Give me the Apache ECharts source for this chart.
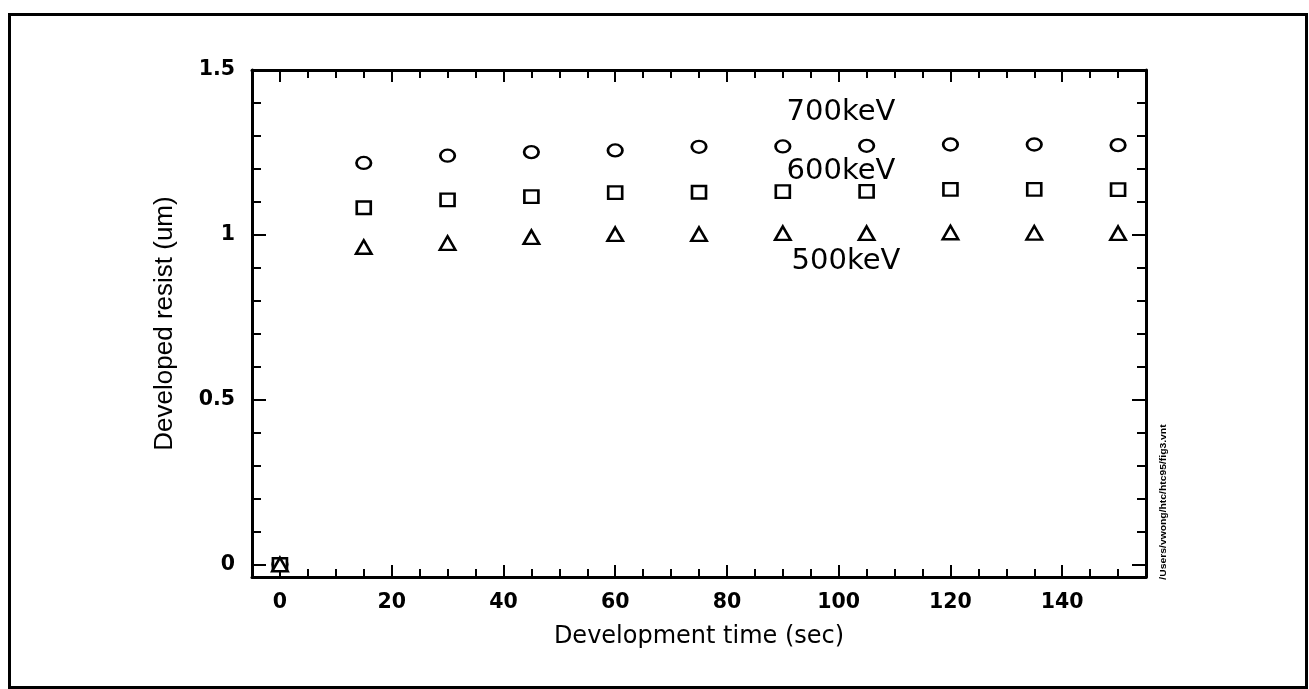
<!DOCTYPE html>
<html>
<head>
<meta charset="utf-8">
<script src="https://cdn.jsdelivr.net/npm/echarts@6/dist/echarts.min.js"></script>
<style>
html,body{margin:0;padding:0;background:#fff;}
#c{width:1309px;height:689px;}
</style>
</head>
<body>
<div id="c"></div>
<script>
// ---- data ----
var times = [0, 15, 30, 45, 60, 75, 90, 105, 120, 135, 150];
var kev700 = [0, 1.218, 1.240, 1.251, 1.256, 1.267, 1.268, 1.270, 1.274, 1.274, 1.272];
var kev600 = [0, 1.082, 1.106, 1.116, 1.128, 1.129, 1.131, 1.132, 1.138, 1.138, 1.137];
var kev500 = [0, 0.963, 0.975, 0.993, 1.002, 1.002, 1.005, 1.005, 1.007, 1.006, 1.005];

var xLabels = [0, 20, 40, 60, 80, 100, 120, 140];
var xMinorTicks = [0,5,10,15,20,25,30,35,40,45,50,55,60,65,70,75,80,85,90,95,100,105,110,115,120,125,130,135,140,145,150];
var yLabels = [0, 0.5, 1, 1.5];
var yMinorTicks = [0,0.1,0.2,0.3,0.4,0.5,0.6,0.7,0.8,0.9,1.0,1.1,1.2,1.3,1.4,1.5];

var seriesNames = ['700keV', '600keV', '500keV'];
var annX = [100.4, 100.4, 101.3];
var annY = [1.372, 1.193, 0.918];

var xTitle = 'Development time (sec)';
var yTitle = 'Developed resist (um)';
var fileTag = '/Users/vwong/htc/htc95/fig3.vnt';

// ---- chart ----
var chart = echarts.init(document.getElementById('c'), null, {renderer: 'canvas'});
var FONT = 'DejaVu Sans';
var XMIN = -5, XMAX = 155, YMIN = -0.038, YMAX = 1.5;

function xAx(pos, ticks, len, showLine, labels, name) {
  var a = {
    type: 'value', position: pos, min: XMIN, max: XMAX,
    splitLine: {show: false},
    axisLine: {show: showLine, onZero: false, lineStyle: {color: '#000', width: 3}},
    axisTick: {show: true, inside: true, length: len, customValues: ticks, lineStyle: {color: '#000', width: 2}},
    axisLabel: labels ? {show: true, customValues: labels, color: '#000', fontFamily: FONT, fontWeight: 'bold', fontSize: 20.5, margin: 15} : {show: false}
  };
  if (name) {
    a.name = name; a.nameLocation = 'middle'; a.nameGap = 48;
    a.nameTextStyle = {color: '#000', fontFamily: FONT, fontSize: 24};
  }
  return a;
}
function yAx(pos, ticks, len, showLine, labels, name) {
  var a = {
    type: 'value', position: pos, min: YMIN, max: YMAX,
    splitLine: {show: false},
    axisLine: {show: showLine, onZero: false, lineStyle: {color: '#000', width: 3}},
    axisTick: {show: true, inside: true, length: len, customValues: ticks, lineStyle: {color: '#000', width: 2}},
    axisLabel: labels ? {show: true, customValues: labels, color: '#000', fontFamily: FONT, fontWeight: 'bold', fontSize: 20.5, margin: 17} : {show: false}
  };
  if (name) {
    a.name = name; a.nameLocation = 'middle'; a.nameGap = 74;
    a.nameTextStyle = {color: '#000', fontFamily: 'Liberation Sans', fontSize: 26};
  }
  return a;
}

function pts(vals) { return times.map(function (t, i) { return [t, vals[i]]; }); }
function mk(name, vals, symbol, size) {
  return {
    name: name, type: 'scatter', xAxisIndex: 0, yAxisIndex: 0,
    symbol: symbol, symbolSize: size, data: pts(vals),
    itemStyle: {color: '#fff', borderColor: '#000', borderWidth: 2.5, opacity: 1},
    emphasis: {disabled: true}, silent: true, z: 3
  };
}

var annData = seriesNames.map(function (n, i) { return {value: [annX[i], annY[i]], name: n}; });

var option = {
  animation: false,
  backgroundColor: '#fff',
  grid: {left: 252, top: 70, width: 894, height: 507, containLabel: false},
  xAxis: [
    xAx('bottom', xMinorTicks, 8, true, xLabels, xTitle),
    xAx('bottom', xLabels, 12, false, null, null),
    xAx('top', xMinorTicks, 8, true, null, null),
    xAx('top', xLabels, 12, false, null, null)
  ],
  yAxis: [
    yAx('left', yMinorTicks, 9, true, yLabels, yTitle),
    yAx('left', yLabels, 14, false, null, null),
    yAx('right', yMinorTicks, 9, true, null, null),
    yAx('right', yLabels, 14, false, null, null)
  ],
  series: [
    mk(seriesNames[0], kev700, 'circle', [14.5, 12]),
    mk(seriesNames[1], kev600, 'rect', [14, 12.5]),
    mk(seriesNames[2], kev500, 'triangle', [15.5, 13.5]),
    {
      type: 'scatter', xAxisIndex: 0, yAxisIndex: 0, symbolSize: 0, silent: true, z: 4,
      itemStyle: {opacity: 1},
      data: annData,
      label: {show: true, position: 'inside', formatter: '{b}', color: '#000', opacity: 1,
              textBorderWidth: 0, fontFamily: FONT, fontSize: 29}
    }
  ],
  graphic: [
    {type: 'rect', left: 7, top: 12, shape: {width: 1297, height: 673},
     style: {fill: 'none', stroke: '#000', lineWidth: 3}, silent: true, z: 0},
    {type: 'text', x: 1164, y: 502, rotation: Math.PI / 2, scaleX: 1.15,
     style: {text: fileTag, font: 'bold 9px "Liberation Sans Narrow", "Liberation Sans"', fill: '#000', align: 'center', verticalAlign: 'middle'},
     silent: true}
  ]
};
chart.setOption(option);
</script>
</body>
</html>
